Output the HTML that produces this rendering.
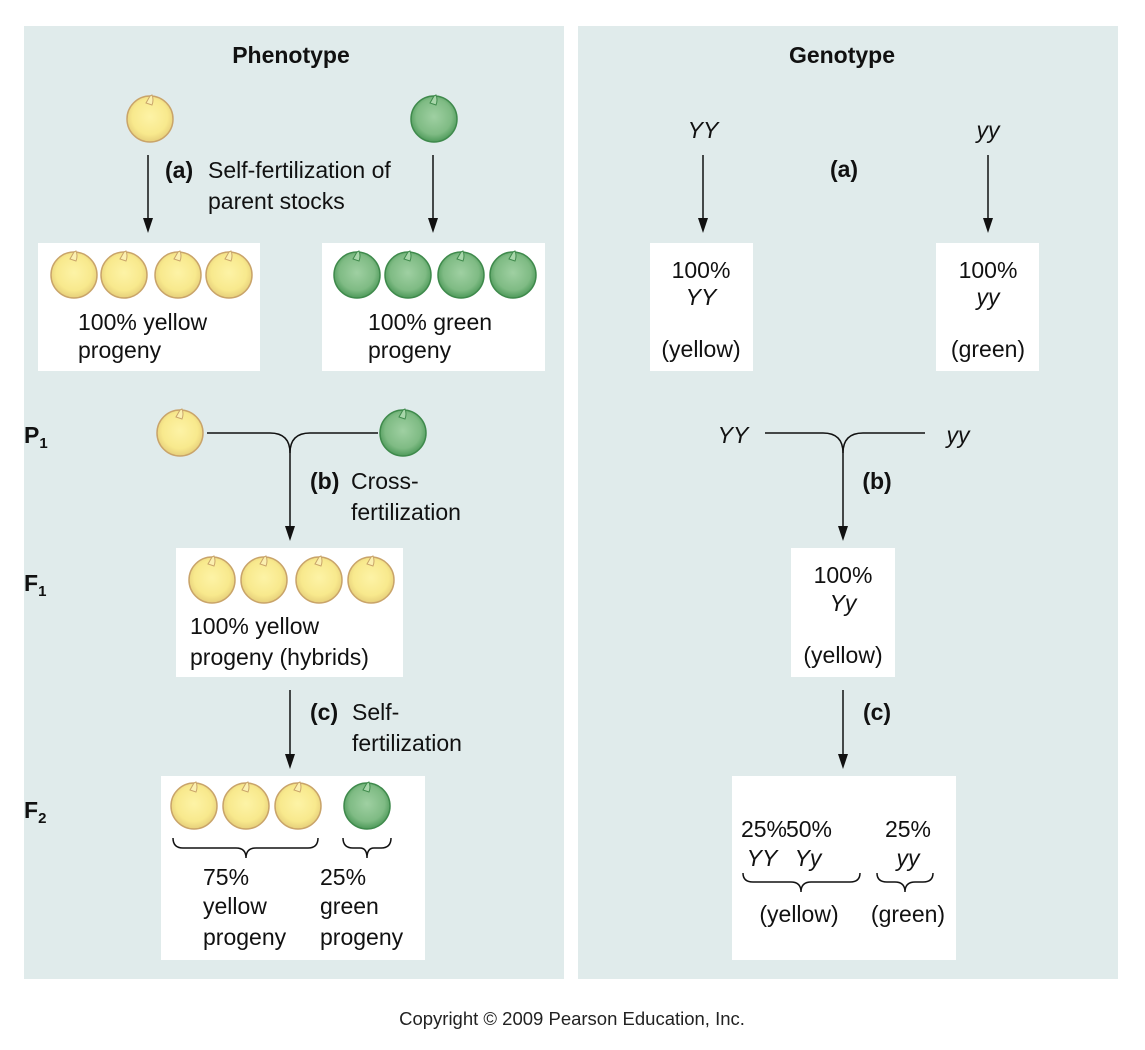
<!DOCTYPE html>
<html><head><meta charset="utf-8"><style>
html,body{margin:0;padding:0;background:#fff;}
svg{display:block;font-family:"Liberation Sans",sans-serif;}
</style></head><body>
<svg width="1145" height="1050" viewBox="0 0 1145 1050" xmlns="http://www.w3.org/2000/svg">
<defs>
<radialGradient id="gy" cx="0.5" cy="0.45" r="0.55"><stop offset="0" stop-color="#fdf3a6"/><stop offset="0.7" stop-color="#f8e98d"/><stop offset="1" stop-color="#e6cf7a"/></radialGradient>
<radialGradient id="gg" cx="0.5" cy="0.45" r="0.55"><stop offset="0" stop-color="#9fd0a2"/><stop offset="0.7" stop-color="#7fbb84"/><stop offset="1" stop-color="#4e9a5a"/></radialGradient>
<g id="py"><circle r="23" fill="url(#gy)" stroke="#c9a46a" stroke-width="1.5"/><path d="M0,-23 L-4,-16 L2,-14 Q4,-19 2,-24 Z" fill="#fbf0b0" stroke="#c9a46a" stroke-width="1"/></g>
<g id="pg"><circle r="23" fill="url(#gg)" stroke="#3f8a4c" stroke-width="1.5"/><path d="M0,-23 L-4,-16 L2,-14 Q4,-19 2,-24 Z" fill="#a8d6aa" stroke="#3f8a4c" stroke-width="1"/></g>
</defs>
<rect x="24" y="26" width="540" height="953" fill="#e0ebeb"/>
<rect x="578" y="26" width="540" height="953" fill="#e0ebeb"/>
<g fill="#fff">
<rect x="38" y="243" width="222" height="128"/><rect x="322" y="243" width="223" height="128"/>
<rect x="176" y="548" width="227" height="129"/><rect x="161" y="776" width="264" height="184"/>
<rect x="650" y="243" width="103" height="128"/><rect x="936" y="243" width="103" height="128"/>
<rect x="791" y="548" width="104" height="129"/><rect x="732" y="776" width="224" height="184"/>
</g>
<g font-size="23" fill="#111">
<text x="291" y="63" text-anchor="middle" font-weight="bold">Phenotype</text>
<text x="842" y="63" text-anchor="middle" font-weight="bold">Genotype</text>
</g>
<g stroke="#111" stroke-width="1.5" fill="none">
<line x1="148" y1="155" x2="148" y2="220"/><line x1="433" y1="155" x2="433" y2="220"/>
<line x1="703" y1="155" x2="703" y2="220"/><line x1="988" y1="155" x2="988" y2="220"/>
<path d="M207,433 H270 Q290,433 290,453 V528"/><path d="M378,433 H310 Q290,433 290,453"/>
<line x1="290" y1="690" x2="290" y2="756"/>
<path d="M765,433 H823 Q843,433 843,453 V528"/><path d="M925,433 H863 Q843,433 843,453"/>
<line x1="843" y1="690" x2="843" y2="756"/>
<path d="M173,838 Q173,848 183,848 H236 Q246,848 246,858 Q246,848 256,848 H308 Q318,848 318,838"/>
<path d="M343,838 Q343,848 353,848 H360 Q367,848 367,858 Q367,848 374,848 H381 Q391,848 391,838"/>
<path d="M743,873 Q743,882 753,882 H791 Q801,882 801,892 Q801,882 811,882 H850 Q860,882 860,873"/>
<path d="M877,873 Q877,882 887,882 H895 Q905,882 905,892 Q905,882 915,882 H923 Q933,882 933,873"/>
</g>
<g fill="#111">
<path d="M143,218 L153,218 L148,233 Z"/><path d="M428,218 L438,218 L433,233 Z"/>
<path d="M698,218 L708,218 L703,233 Z"/><path d="M983,218 L993,218 L988,233 Z"/>
<path d="M285,526 L295,526 L290,541 Z"/><path d="M285,754 L295,754 L290,769 Z"/>
<path d="M838,526 L848,526 L843,541 Z"/><path d="M838,754 L848,754 L843,769 Z"/>
</g>
<use href="#py" x="150" y="119"/><use href="#pg" x="434" y="119"/>
<use href="#py" x="74" y="275"/><use href="#py" x="124" y="275"/><use href="#py" x="178" y="275"/><use href="#py" x="229" y="275"/>
<use href="#pg" x="357" y="275"/><use href="#pg" x="408" y="275"/><use href="#pg" x="461" y="275"/><use href="#pg" x="513" y="275"/>
<use href="#py" x="180" y="433"/><use href="#pg" x="403" y="433"/>
<use href="#py" x="212" y="580"/><use href="#py" x="264" y="580"/><use href="#py" x="319" y="580"/><use href="#py" x="371" y="580"/>
<use href="#py" x="194" y="806"/><use href="#py" x="246" y="806"/><use href="#py" x="298" y="806"/><use href="#pg" x="367" y="806"/>
<g font-size="23" fill="#111">
<text x="165" y="178" font-weight="bold">(a)</text><text x="208" y="178">Self-fertilization of</text><text x="208" y="209">parent stocks</text>
<text x="78" y="330">100% yellow</text><text x="78" y="358">progeny</text>
<text x="368" y="330">100% green</text><text x="368" y="358">progeny</text>
<text x="24" y="443" font-weight="bold">P<tspan font-size="15" dy="5">1</tspan></text>
<text x="24" y="591" font-weight="bold">F<tspan font-size="15" dy="5">1</tspan></text>
<text x="24" y="818" font-weight="bold">F<tspan font-size="15" dy="5">2</tspan></text>
<text x="310" y="489" font-weight="bold">(b)</text><text x="351" y="489">Cross-</text><text x="351" y="520">fertilization</text>
<text x="190" y="634">100% yellow</text><text x="190" y="665">progeny (hybrids)</text>
<text x="310" y="720" font-weight="bold">(c)</text><text x="352" y="720">Self-</text><text x="352" y="751">fertilization</text>
<text x="203" y="885">75%</text><text x="203" y="914">yellow</text><text x="203" y="945">progeny</text>
<text x="320" y="885">25%</text><text x="320" y="914">green</text><text x="320" y="945">progeny</text>
<text x="703" y="138" text-anchor="middle" font-style="italic">YY</text><text x="988" y="138" text-anchor="middle" font-style="italic">yy</text>
<text x="844" y="177" text-anchor="middle" font-weight="bold">(a)</text>
<text x="701" y="278" text-anchor="middle">100%</text><text x="701" y="305" text-anchor="middle" font-style="italic">YY</text><text x="701" y="357" text-anchor="middle">(yellow)</text>
<text x="988" y="278" text-anchor="middle">100%</text><text x="988" y="305" text-anchor="middle" font-style="italic">yy</text><text x="988" y="357" text-anchor="middle">(green)</text>
<text x="733" y="443" text-anchor="middle" font-style="italic">YY</text><text x="958" y="443" text-anchor="middle" font-style="italic">yy</text>
<text x="877" y="489" text-anchor="middle" font-weight="bold">(b)</text>
<text x="843" y="583" text-anchor="middle">100%</text><text x="843" y="611" text-anchor="middle" font-style="italic">Yy</text><text x="843" y="663" text-anchor="middle">(yellow)</text>
<text x="877" y="720" text-anchor="middle" font-weight="bold">(c)</text>
<text x="764" y="837" text-anchor="middle">25%</text><text x="809" y="837" text-anchor="middle">50%</text><text x="908" y="837" text-anchor="middle">25%</text>
<text x="762" y="866" text-anchor="middle" font-style="italic">YY</text><text x="808" y="866" text-anchor="middle" font-style="italic">Yy</text><text x="908" y="866" text-anchor="middle" font-style="italic">yy</text>
<text x="799" y="922" text-anchor="middle">(yellow)</text><text x="908" y="922" text-anchor="middle">(green)</text>
</g>
<text x="572" y="1025" text-anchor="middle" font-size="18.5" fill="#222">Copyright © 2009 Pearson Education, Inc.</text>
</svg>
</body></html>
